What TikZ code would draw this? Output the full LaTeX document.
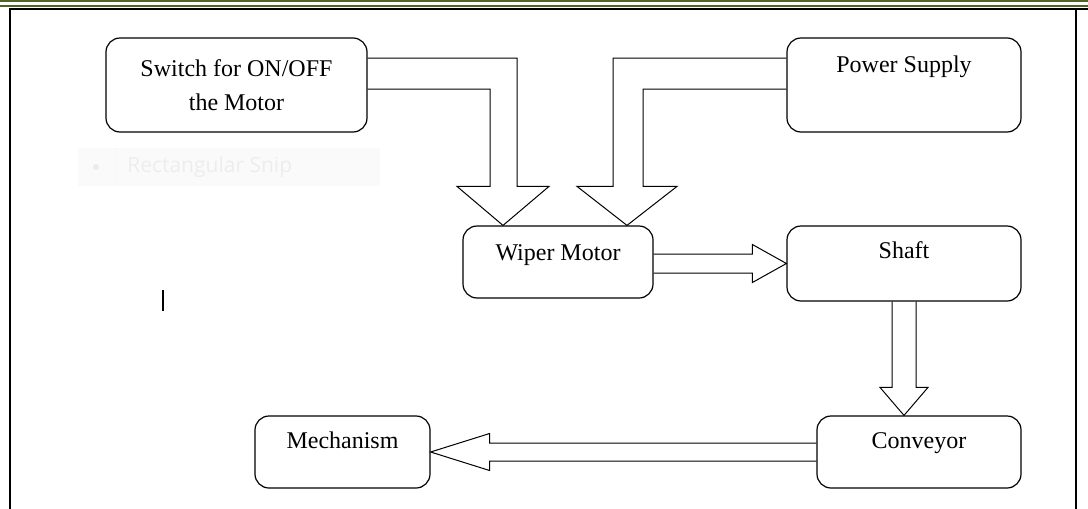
\documentclass[tikz,border=0pt]{standalone}
\usepackage{fontspec}
\setmainfont{Liberation Serif}
\newfontfamily\snipfont{Open Sans}
\usetikzlibrary{calc}
\definecolor{olivebar}{RGB}{79,98,40}
\begin{document}
\begin{tikzpicture}[x=0.5pt, y=-0.5pt,
  box/.style={draw, line width=0.6pt, rounded corners=7pt, inner sep=0pt, align=center, font=\fontsize{12}{17}\selectfont},
  fatarrow/.style={draw, line width=0.5pt, line join=miter}]
\useasboundingbox (0,0) rectangle (1088,509);
% page border
\draw[olivebar, line width=1.2pt] (0,1) -- (1088,1);
\draw[olivebar, line width=1pt] (0,5.5) -- (1088,5.5);
\draw[line width=1.2pt] (1088,9) -- (10,9) -- (10,509);
\draw[line width=1.2pt] (1076,9) -- (1076,509);
% faint snip tooltip and cursor
\fill[black!2] (78,148) rectangle (380,186);
\draw[black!3] (115,148) -- (115,186);
\fill[black!8] (96,167) circle (3);
\node[anchor=west, inner sep=0pt, text=black!7, font=\snipfont\fontsize{10.5}{12}\selectfont] (snip) at (127,167) {Rectangular Snip};
\draw[line width=0.6pt] (163,290) -- (163,311);
% blocks
\node[box, minimum width=130.5pt, minimum height=47pt] (switch) at (236.5,85) {Switch for ON/OFF\\the Motor};
\node[box, minimum width=117pt, minimum height=47pt, text height=17.25pt, text depth=29.75pt] (power) at (904,85) {Power Supply};
\node[box, minimum width=95pt, minimum height=36pt, text height=17.25pt, text depth=18.75pt] (wiper) at (558,262) {Wiper Motor};
\node[box, minimum width=117pt, minimum height=37.5pt, text height=16.25pt, text depth=21.25pt] (shaft) at (904,263.5) {Shaft};
\node[box, minimum width=102pt, minimum height=36pt, text height=16.25pt, text depth=19.75pt] (conveyor) at (919,452) {Conveyor};
\node[box, minimum width=87.5pt, minimum height=36pt, text height=16.25pt, text depth=19.75pt] (mech) at (342.5,452) {Mechanism};
% block arrows
\coordinate (t1) at ($(wiper.north)+(-55,0)$);
\coordinate (t2) at ($(wiper.north)+(69,0)$);
\coordinate (t4) at (shaft.south |- conveyor.north);
\draw[fatarrow] ($(switch.east)+(0,-27)$) -| ($(t1)+(14,-39)$) -- ++(32,0) -- (t1) -- ++(-46,-39) -- ++(33,0) |- ($(switch.east)+(0,4)$);
\draw[fatarrow] ($(power.west)+(0,-27)$) -| ($(t2)+(-14,-39)$) -- ++(-36,0) -- (t2) -- ++(50,-39) -- ++(-34,0) |- ($(power.west)+(0,4)$);
\draw[fatarrow] ($(wiper.east |- shaft.west)+(0,-9.5)$) -- ($(shaft.west)+(-34,-9.5)$) -- ++(0,-9.5) -- (shaft.west) -- ++(-34,19) -- ++(0,-9.5) -- ($(wiper.east |- shaft.west)+(0,9.5)$);
\draw[fatarrow] ($(shaft.south)+(-12,0)$) -- ($(t4)+(-12,-28)$) -- ++(-12,0) -- (t4) -- ++(24,-28) -- ++(-12,0) -- ($(shaft.south)+(12,0)$);
\draw[fatarrow] ($(conveyor.west)+(0,-9)$) -- ($(mech.east)+(59,-9)$) -- ++(0,-9.5) -- (mech.east) -- ++(59,18.5) -- ++(0,-9.5) -- ($(conveyor.west)+(0,9)$);
\end{tikzpicture}
\end{document}
